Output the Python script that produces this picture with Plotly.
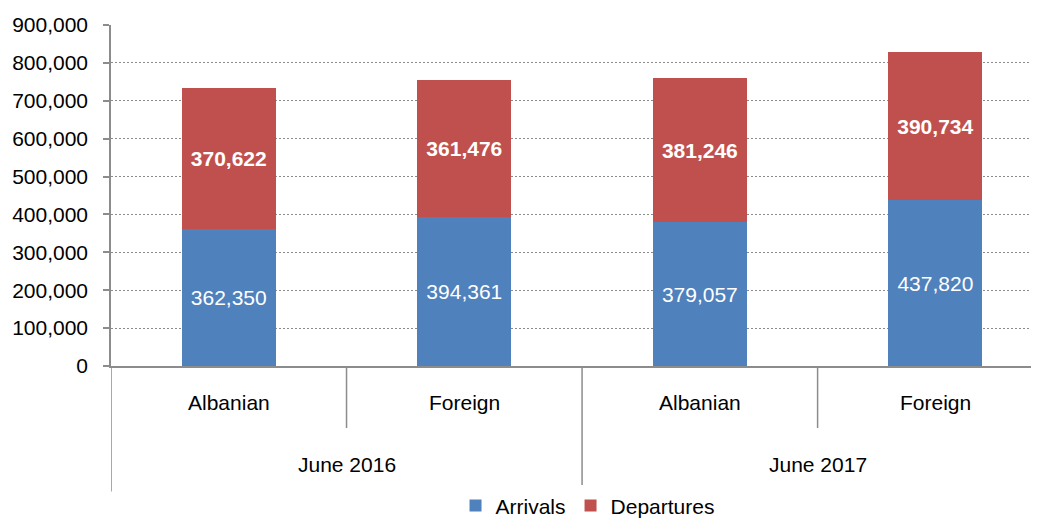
import plotly.graph_objects as go

groups = ["June 2016", "June 2016", "June 2017", "June 2017"]
subcats = ["Albanian", "Foreign", "Albanian", "Foreign"]
arrivals = [362350, 394361, 379057, 437820]
departures = [370622, 361476, 381246, 390734]
y_ticks = [0, 100000, 200000, 300000, 400000, 500000, 600000, 700000, 800000, 900000]

FONT = "Liberation Sans, Arial, sans-serif"
BLUE = "#4F81BD"
RED = "#C0504D"
AXIS = "#8C8C8C"

x = list(range(len(subcats)))

fig = go.Figure()
fig.add_trace(go.Bar(
    x=x, y=arrivals, name="Arrivals", marker=dict(color=BLUE, line=dict(width=0)),
    width=0.4, texttemplate="%{y:,}", textposition="inside", insidetextanchor="middle",
    textangle=0, textfont=dict(size=21, color="white", family=FONT),
))
fig.add_trace(go.Bar(
    x=x, y=departures, name="Departures", marker=dict(color=RED, line=dict(width=0)),
    width=0.4, texttemplate="<b>%{y:,}</b>", textposition="inside", insidetextanchor="middle",
    textangle=0, textfont=dict(size=21, color="white", family=FONT),
))

shapes = []
annotations = []
for i, lab in enumerate(subcats):
    annotations.append(dict(x=i, y=-0.1056, xref="x", yref="paper", text=lab, showarrow=False,
                            font=dict(size=21, color="black", family=FONT), xanchor="center", yanchor="middle"))
n = len(subcats)
for b in range(n + 1):
    xb = b - 0.5
    is_group_edge = b == 0 or b == n or groups[b - 1] != groups[b]
    y1 = -0.368 if is_group_edge else -0.182
    shapes.append(dict(type="line", xref="x", yref="paper", x0=xb, x1=xb, y0=0, y1=y1,
                       line=dict(color=AXIS, width=1.5)))
uniq = []
for g in groups:
    if g not in uniq:
        uniq.append(g)
for g in uniq:
    idx = [i for i, gg in enumerate(groups) if gg == g]
    cx = (idx[0] + idx[-1]) / 2
    annotations.append(dict(x=cx, y=-0.2874, xref="x", yref="paper", text=g, showarrow=False,
                            font=dict(size=21, color="black", family=FONT), xanchor="center", yanchor="middle"))

# page body has an 8px margin, so the figure is offset by 8px in the window
fig.update_layout(
    width=1031, height=512,
    margin=dict(l=103, r=0, t=17, b=154, autoexpand=False),
    barmode="stack",
    plot_bgcolor="white", paper_bgcolor="white",
    font=dict(family=FONT, size=20, color="black"),
    showlegend=True,
    legend=dict(orientation="h", x=0.5135, y=-0.41, xanchor="center", yanchor="middle",
                font=dict(size=21, color="black", family=FONT), itemwidth=30, traceorder="normal"),
    shapes=shapes, annotations=annotations,
    xaxis=dict(range=[-0.5, 3.44], showticklabels=False, showgrid=False, zeroline=False,
               showline=True, linecolor=AXIS, linewidth=1.5, ticks="", automargin=False),
    yaxis=dict(range=[0, 900000], tickvals=y_ticks, tickformat=",", showgrid=True,
               gridcolor="#8C8C8C", griddash="2px,2px", gridwidth=1, zeroline=False,
               showline=True, linecolor=AXIS, linewidth=1.5, ticks="outside", ticklen=6,
               tickcolor=AXIS, tickwidth=1.5, ticklabelstandoff=11, automargin=False,
               tickfont=dict(size=21, color="black", family=FONT)),
)

fig.write_html("out.html")
